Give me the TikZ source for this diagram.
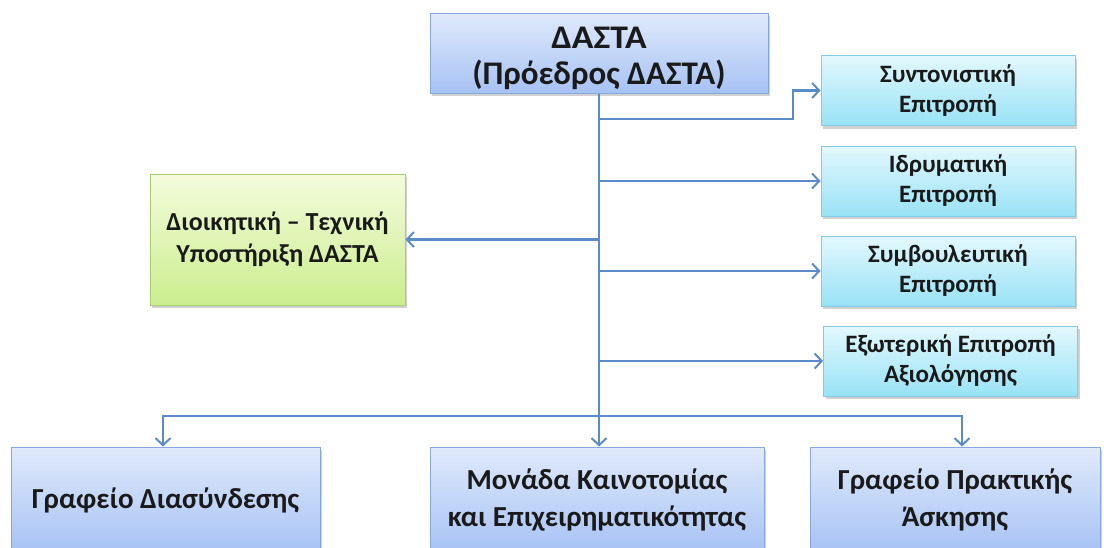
\documentclass[tikz,border=0pt]{standalone}
\usepackage{fontspec}
\setmainfont{Carlito}
\usetikzlibrary{arrows.meta,shadows}
\definecolor{lineblue}{HTML}{5B8BC9}
\definecolor{bluetop}{HTML}{E0EAFB}
\definecolor{bluebot}{HTML}{A6C2F4}
\definecolor{blueedge}{HTML}{86A8DC}
\definecolor{cyantop}{HTML}{E3F8FD}
\definecolor{cyanbot}{HTML}{98E2F6}
\definecolor{cyanedge}{HTML}{82CBE3}
\definecolor{greentop}{HTML}{F4FBDC}
\definecolor{greenbot}{HTML}{CBEE8E}
\definecolor{greenedge}{HTML}{A9CF70}
\definecolor{txt}{HTML}{1A1A1A}
\tikzset{
  x=1pt, y=1pt,
  boxbase/.style={rectangle, inner sep=2pt, align=center, line width=1pt, text=txt,
    drop shadow={shadow xshift=2pt, shadow yshift=-3pt, opacity=0.3, fill=black!60}},
  bluebox/.style={boxbase, draw=blueedge, top color=bluetop, bottom color=bluebot},
  cyanbox/.style={boxbase, draw=cyanedge, top color=cyantop, bottom color=cyanbot,
    font=\bfseries\fontsize{25}{30}\selectfont, minimum width=254pt, minimum height=70pt},
  greenbox/.style={boxbase, draw=greenedge, top color=greentop, bottom color=greenbot,
    font=\bfseries\fontsize{26}{32}\selectfont},
  bottombox/.style={bluebox, font=\bfseries\fontsize{29}{37}\selectfont, minimum height=106pt},
  conn/.style={draw=lineblue, line width=2.2pt},
  arr/.style={conn, -{Straight Barb[length=7pt,width=15pt,line width=2pt]}},
}
\begin{document}
\begin{tikzpicture}
\useasboundingbox (0,0) rectangle (1108,-547);
% top
\node[bluebox, font=\bfseries\fontsize{33}{36}\selectfont, minimum width=338pt, minimum height=80pt]
  (top) at (599,-53) {\rule{0pt}{32pt}\scalebox{1.08}[1]{ΔΑΣΤΑ}\\(Πρόεδρος ΔΑΣΤΑ)};
% right boxes
\node[cyanbox] (c1) at (948,-90.5) {Συντονιστική\\Επιτροπή};
\node[cyanbox] (c2) at (948,-181) {Ιδρυματική\\Επιτροπή};
\node[cyanbox] (c3) at (948,-271) {Συμβουλευτική\\Επιτροπή};
\node[cyanbox] (c4) at (950.5,-361) {Εξωτερική Επιτροπή\\Αξιολόγησης};
% green
\node[greenbox, minimum width=255pt, minimum height=131pt] (g) at (277.5,-239.5)
  {Διοικητική – Τεχνική\\Υποστήριξη ΔΑΣΤΑ};
% bottom
\node[bottombox, minimum width=309pt] (b1) at (165.5,-500) {Γραφείο Διασύνδεσης};
\node[bottombox, minimum width=334pt] (b2) at (597,-500) {Μονάδα Καινοτομίας\\και Επιχειρηματικότητας};
\node[bottombox, minimum width=290pt] (b3) at (955,-500) {Γραφείο Πρακτικής\\Άσκησης};
% connectors
\coordinate (j1) at (599,-119);
\coordinate (e1) at (793,-119);
\coordinate (h) at (599,-416);
\draw[arr] (top.south) -- (top.south |- b2.north);
\draw[arr] (j1) -- (e1) |- (c1.west);
\draw[arr] (top.south |- c2.west) -- (c2.west);
\draw[arr] (top.south |- c3.west) -- (c3.west);
\draw[arr] (top.south |- c4.west) -- (c4.west);
\draw[arr] (top.south |- g.east) -- (g.east);
\draw[arr] (h) -| (163,0 |- b1.north);
\draw[arr] (h) -| (962,0 |- b3.north);
\end{tikzpicture}
\end{document}
